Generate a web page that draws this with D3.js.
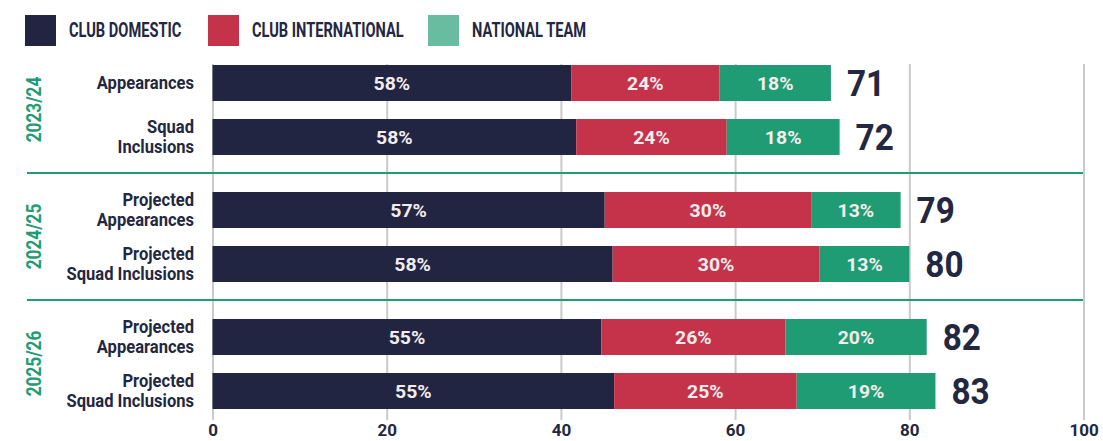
<!DOCTYPE html>
<html>
<head>
<meta charset="utf-8">
<script src="https://cdn.jsdelivr.net/npm/d3@7"></script>
<style>
  html, body { margin: 0; padding: 0; background: #ffffff; }
  svg { display: block; }
  text { font-family: "Roboto", "DejaVu Sans Condensed", sans-serif; font-weight: 700; }
</style>
</head>
<body>
<svg id="chart" width="1103" height="441"></svg>
<script>
// Seasons and the two rows shown for each season
const seasons = ["2023/24", "2024/25", "2025/26"];
const rowLabels = [
  ["Appearances"],
  ["Squad", "Inclusions"],
  ["Projected", "Appearances"],
  ["Projected", "Squad Inclusions"],
  ["Projected", "Appearances"],
  ["Projected", "Squad Inclusions"]
];
const rowSeason = [0, 0, 1, 1, 2, 2];

// Totals (count of matches) and the percentage split by competition type
const totals = [71, 72, 79, 80, 82, 83];
const domesticPct = [58, 58, 57, 58, 55, 55];
const internationalPct = [24, 24, 30, 30, 26, 25];
const nationalPct = [18, 18, 13, 13, 20, 19];

const seriesNames = ["CLUB DOMESTIC", "CLUB INTERNATIONAL", "NATIONAL TEAM"];
const seriesColors = ["#212542", "#c5334a", "#1f9c74"];
const legendColors = ["#212542", "#c5334a", "#69bc9f"];
const xTicks = [0, 20, 40, 60, 80, 100];

const navy = "#23273f";
const green = "#1f9c74";

const svg = d3.select("#chart");

const x = d3.scaleLinear().domain([0, 100]).range([212.5, 1083.5]);
const seasonBand = d3.scaleBand().domain(d3.range(seasons.length)).range([46, 427]);
const rowBand = d3.scaleBand().domain([0, 1]).range([19, 109]).paddingInner(1 / 3);

const rowY = i => seasonBand(rowSeason[i]) + rowBand(i % 2);

// Condensed lettering: place the text at (px, py) and narrow it horizontally
const placeText = (sel, px, py, sx) =>
  sel.attr("transform", (d, i) => {
    const a = typeof px === "function" ? px(d, i) : px;
    const b = typeof py === "function" ? py(d, i) : py;
    return `translate(${a},${b}) scale(${sx},1)`;
  });

// Rows with stacked segments: each share scaled so the bar ends at the total
const rows = totals.map((t, i) => {
  const pcts = [domesticPct[i], internationalPct[i], nationalPct[i]];
  const sum = d3.sum(pcts);
  let acc = 0;
  const segs = pcts.map((p, k) => {
    const v = p / sum * t;
    const s = { k, p, x0: acc, x1: acc + v };
    acc += v;
    return s;
  });
  return { i, total: t, segs };
});

// Legend
const legend = svg.append("g");
const legendX = [25, 208, 428];
seriesNames.forEach((name, k) => {
  const g = legend.append("g").attr("transform", `translate(${legendX[k]},0)`);
  g.append("rect").attr("x", 0).attr("y", 15).attr("width", 31).attr("height", 31)
    .attr("fill", legendColors[k]);
  g.append("text")
    .call(placeText, 44, 30, 0.75)
    .attr("dy", "0.355em")
    .attr("fill", navy).attr("font-size", 19.5).text(name);
});

// Vertical gridlines
svg.append("g")
  .attr("transform", "translate(0,420)")
  .call(d3.axisBottom(x).tickValues(xTicks).tickSize(-356).tickFormat(""))
  .call(g => g.select(".domain").remove())
  .call(g => g.selectAll("line").attr("stroke", "#c8cbcb").attr("stroke-width", 2));

// Season separators
svg.append("g").selectAll("line")
  .data([1, 2])
  .join("line")
  .attr("x1", 27).attr("x2", 1083)
  .attr("y1", d => seasonBand(d)).attr("y2", d => seasonBand(d))
  .attr("stroke", green).attr("stroke-width", 2);

// Bars
const barG = svg.append("g");
const rowG = barG.selectAll("g").data(rows).join("g")
  .attr("transform", d => `translate(0,${rowY(d.i)})`);

rowG.selectAll("rect").data(d => d.segs).join("rect")
  .attr("x", s => x(s.x0))
  .attr("width", s => x(s.x1) - x(s.x0))
  .attr("y", 0)
  .attr("height", rowBand.bandwidth())
  .attr("fill", s => seriesColors[s.k]);

rowG.selectAll("text.pct").data(d => d.segs).join("text")
  .attr("class", "pct")
  .call(placeText, s => (x(s.x0) + x(s.x1)) / 2, rowBand.bandwidth() / 2, 1.05)
  .attr("dy", "0.355em")
  .attr("text-anchor", "middle")
  .attr("fill", "#f3eced")
  .attr("font-size", 18.5)
  .text(s => s.p + "%");

rowG.append("text")
  .attr("class", "total")
  .call(placeText, d => x(d.total) + 16, rowBand.bandwidth() / 2, 0.9)
  .attr("dy", "0.355em")
  .attr("fill", navy)
  .attr("font-size", 37)
  .text(d => d.total);

// Row labels
rowG.append("text")
  .call(placeText, 194, 0, 0.92)
  .attr("text-anchor", "end")
  .attr("fill", navy)
  .attr("font-size", 18)
  .each(function(d) {
    const lines = rowLabels[d.i];
    const lh = 20;
    const start = rowBand.bandwidth() / 2 - (lines.length - 1) * lh / 2;
    d3.select(this).selectAll("tspan").data(lines).join("tspan")
      .attr("x", 0)
      .attr("y", (l, j) => start + j * lh)
      .attr("dy", "0.355em")
      .text(l => l);
  });

// Season labels, rotated
svg.append("g").selectAll("text")
  .data(seasons)
  .join("text")
  .attr("transform", (d, i) => `translate(34,${seasonBand(i) + seasonBand.bandwidth() / 2}) rotate(-90) scale(0.82,1)`)
  .attr("text-anchor", "middle")
  .attr("dy", "0.355em")
  .attr("fill", green)
  .attr("font-size", 21)
  .text(d => d);

// X axis labels
svg.append("g")
  .attr("transform", "translate(0,424)")
  .call(d3.axisBottom(x).tickValues(xTicks).tickSize(0).tickPadding(0).tickFormat(d3.format("d")))
  .call(g => g.select(".domain").remove())
  .call(g => g.selectAll("text")
    .attr("fill", navy)
    .attr("font-size", 17)
    .attr("font-family", null)
    .attr("dy", "0.71em"));
</script>
</body>
</html>
